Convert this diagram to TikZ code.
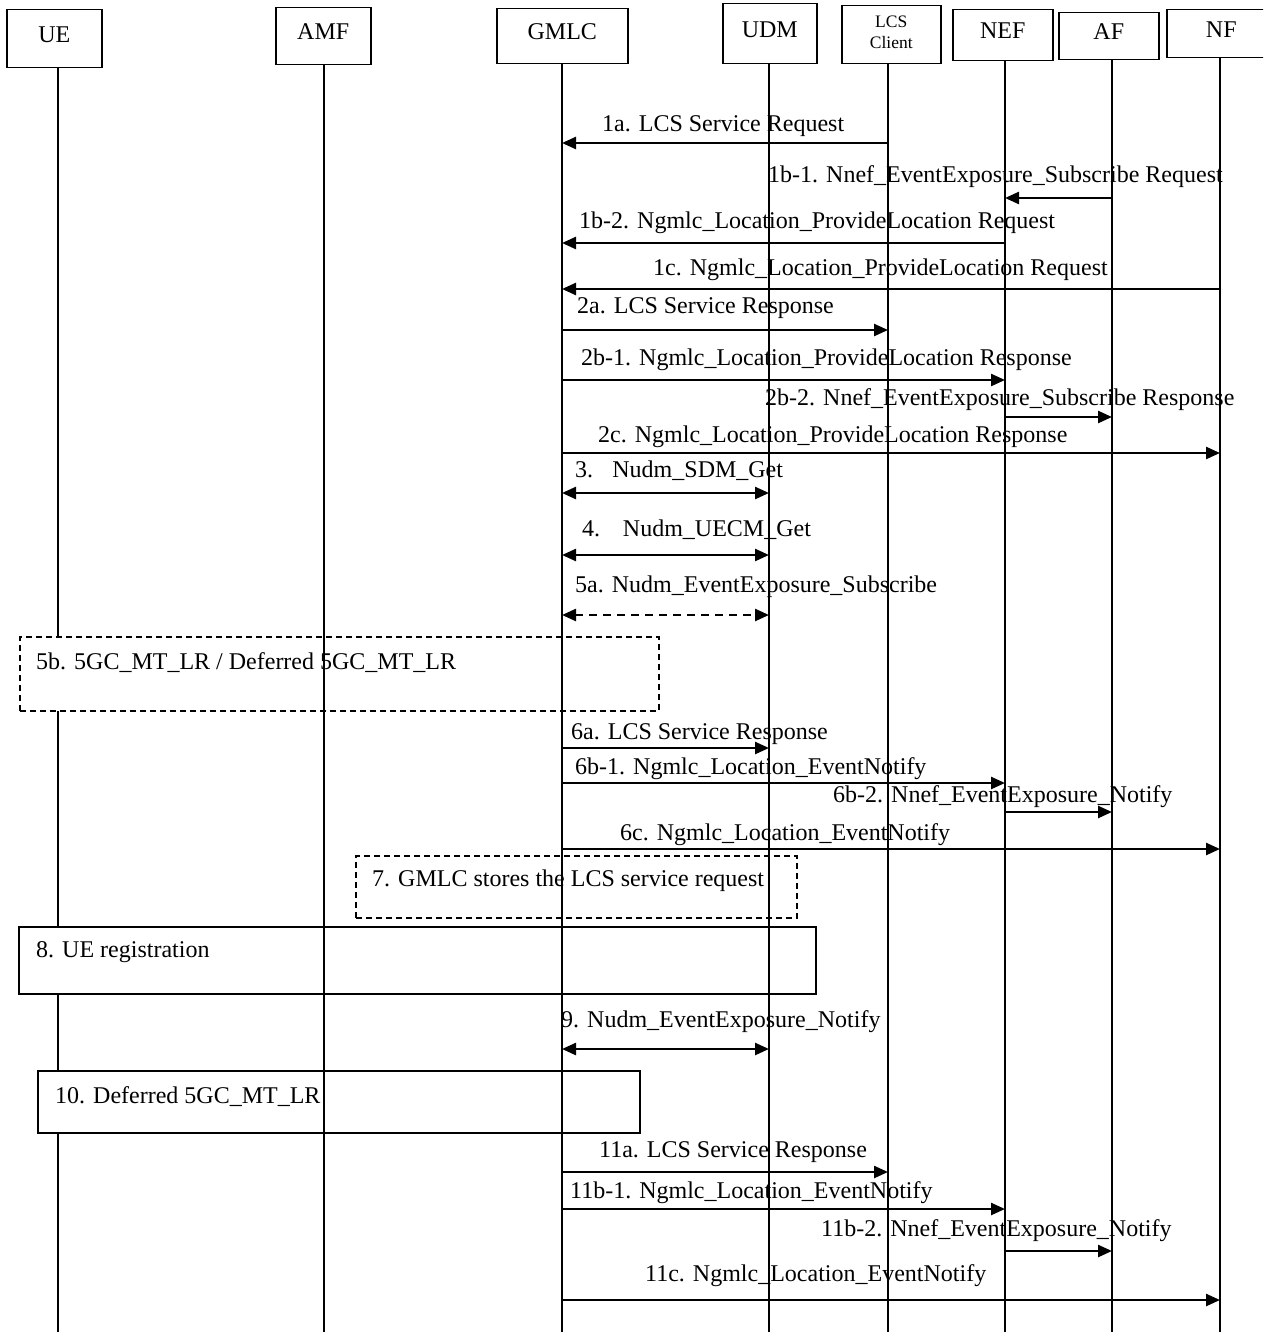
\documentclass[tikz,border=0pt]{standalone}
\usepackage{fontspec}
\setmainfont{Liberation Serif}
\usetikzlibrary{arrows.meta,positioning,calc}

\tikzset{
  entity/.style={rectangle, draw, line width=1.5pt, anchor=north west, inner sep=0pt, text depth=9pt},
  life/.style={line width=1.4pt},
  msg/.style={line width=2.4pt, >={Triangle[length=14pt,width=12pt]}},
  lbl/.style={anchor=west, inner sep=0pt},
  stepbox/.style={rectangle, draw, line width=1.5pt, fill=white, anchor=north west, inner sep=0pt},
  optbox/.style={stepbox, dash pattern=on 6pt off 4pt},
}

\begin{document}
\begin{tikzpicture}[x=1pt, y=-1pt, font=\fontsize{24}{26}\selectfont]
        \useasboundingbox (0,0) rectangle (1263,1332);
        \clip (0,0) rectangle (1263,1332);

        % Entities
        \node (ue) [entity, minimum width=95, minimum height=58] at (6,9) {UE};
        \node (amf) [entity, minimum width=95, minimum height=57] at (275,7) {AMF};
        \node (gmlc) [entity, minimum width=131, minimum height=55] at (496,8) {GMLC};
        \node (udm) [entity, minimum width=94, minimum height=60] at (722,3) {UDM};
        \node (lcs) [entity, minimum width=99, minimum height=58, align=center, text depth=6pt,
                font=\fontsize{17.5}{21}\selectfont] at (841,5) {LCS\\Client};
        \node (nef) [entity, minimum width=100, minimum height=51] at (952,9) {NEF};
        \node (af) [entity, minimum width=100, minimum height=47] at (1058,12) {AF};
        \node (nf) [entity, minimum width=109, minimum height=48] at (1166,9) {NF};

        % Lifeline ends
        \foreach \n/\x in {ue/58, amf/324, gmlc/562, udm/769, lcs/888, nef/1005, af/1112, nf/1220}
            \coordinate (\n-ll) at (\x,1340);

        % UE lifeline goes behind the boxes
        \draw[life] (ue-ll |- ue.south) -- (ue-ll);

        % Boxes
        \node (box5b) [optbox, minimum width=639, minimum height=74] at (19,636) {};
        \node (box7) [optbox, minimum width=441, minimum height=62] at (355,855) {};
        \node (box8) [stepbox, minimum width=797, minimum height=67] at (18,926) {};
        \node (box10) [stepbox, minimum width=602, minimum height=62] at (37,1070) {};

        \node[lbl] at ($(box5b.north west)+(17,27)$) {5b. 5GC\_MT\_LR / Deferred 5GC\_MT\_LR};
        \node[lbl] at ($(box7.north west)+(17,26)$) {7. GMLC stores the LCS service request};
        \node[lbl] at ($(box8.north west)+(18,26)$) {8. UE registration};
        \node[lbl] at ($(box10.north west)+(18,27)$) {10. Deferred 5GC\_MT\_LR};

        % Other lifelines
        \foreach \n in {amf, gmlc, udm, lcs, nef, af, nf}
            \draw[life] (\n-ll |- \n.south) -- (\n-ll);

        % Messages
        \draw[msg, ->] (lcs-ll |- 0,143) -- (gmlc-ll |- 0,143);
        \node[lbl] at (602,126) {1a. LCS Service Request};
        \draw[msg, ->] (af-ll |- 0,198) -- (nef-ll |- 0,198);
        \node[lbl] at (768,177) {1b-1. Nnef\_EventExposure\_Subscribe Request};
        \draw[msg, ->] (nef-ll |- 0,243) -- (gmlc-ll |- 0,243);
        \node[lbl] at (579,223) {1b-2. Ngmlc\_Location\_ProvideLocation Request};
        \draw[msg, ->] (nf-ll |- 0,289) -- (gmlc-ll |- 0,289);
        \node[lbl] at (653,270) {1c. Ngmlc\_Location\_ProvideLocation Request};

        \draw[msg, ->] (gmlc-ll |- 0,330) -- (lcs-ll |- 0,330);
        \node[lbl] at (577,308) {2a. LCS Service Response};
        \draw[msg, ->] (gmlc-ll |- 0,380) -- (nef-ll |- 0,380);
        \node[lbl] at (581,360) {2b-1. Ngmlc\_Location\_ProvideLocation Response};
        \draw[msg, ->] (nef-ll |- 0,417) -- (af-ll |- 0,417);
        \node[lbl] at (765,400) {2b-2. Nnef\_EventExposure\_Subscribe Response};
        \draw[msg, ->] (gmlc-ll |- 0,453) -- (nf-ll |- 0,453);
        \node[lbl] at (598,437) {2c. Ngmlc\_Location\_ProvideLocation Response};

        \draw[msg, <->] (gmlc-ll |- 0,493) -- (udm-ll |- 0,493);
        \node[lbl] at (575,471) {3.\hspace{0.8em}Nudm\_SDM\_Get};
        \draw[msg, <->] (gmlc-ll |- 0,555) -- (udm-ll |- 0,555);
        \node[lbl] at (582,530) {4.\hspace{0.95em}Nudm\_UECM\_Get};
        \draw[msg, <->, dash pattern=on 8pt off 6pt] (gmlc-ll |- 0,615) -- (udm-ll |- 0,615);
        \node[lbl] at (575,587) {5a. Nudm\_EventExposure\_Subscribe};

        \draw[msg, ->] (gmlc-ll |- 0,748) -- (udm-ll |- 0,748);
        \node[lbl] at (571,734) {6a. LCS Service Response};
        \draw[msg, ->] (gmlc-ll |- 0,783) -- (nef-ll |- 0,783);
        \node[lbl] at (575,769) {6b-1. Ngmlc\_Location\_EventNotify};
        \draw[msg, ->] (nef-ll |- 0,812) -- (af-ll |- 0,812);
        \node[lbl] at (833,797) {6b-2. Nnef\_EventExposure\_Notify};
        \draw[msg, ->] (gmlc-ll |- 0,849) -- (nf-ll |- 0,849);
        \node[lbl] at (620,835) {6c. Ngmlc\_Location\_EventNotify};

        \draw[msg, <->] (gmlc-ll |- 0,1049) -- (udm-ll |- 0,1049);
        \node[lbl] at (561,1022) {9. Nudm\_EventExposure\_Notify};

        \draw[msg, ->] (gmlc-ll |- 0,1172) -- (lcs-ll |- 0,1172);
        \node[lbl] at (599,1152) {11a. LCS Service Response};
        \draw[msg, ->] (gmlc-ll |- 0,1209) -- (nef-ll |- 0,1209);
        \node[lbl] at (570,1193) {11b-1. Ngmlc\_Location\_EventNotify};
        \draw[msg, ->] (nef-ll |- 0,1251) -- (af-ll |- 0,1251);
        \node[lbl] at (821,1231) {11b-2. Nnef\_EventExposure\_Notify};
        \draw[msg, ->] (gmlc-ll |- 0,1300) -- (nf-ll |- 0,1300);
        \node[lbl] at (645,1276) {11c. Ngmlc\_Location\_EventNotify};
    \end{tikzpicture}
\end{document}
